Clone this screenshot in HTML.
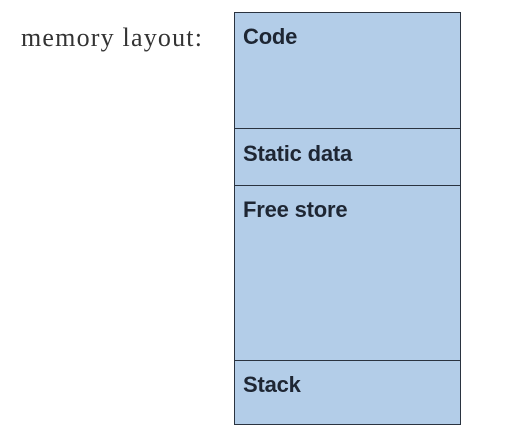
<!DOCTYPE html>
<html><head><style>
body{margin:0;width:512px;height:438px;background:#fff;position:relative;overflow:hidden}
.lbl{position:absolute;left:21px;top:23px;font:26px "Liberation Serif",serif;color:#333;letter-spacing:1.2px;white-space:nowrap}
.box{position:absolute;left:234px;top:12px;width:225px;height:411px;background:#b3cde8;border:1.5px solid #2a3340}
.d{position:absolute;left:0;right:0;height:0;border-top:1.5px solid #2a3340}
.t{position:absolute;left:8px;font:bold 22px "Liberation Sans",sans-serif;color:#1e2633;letter-spacing:-0.2px}
</style></head><body>
<div class="lbl">memory layout:</div>
<div class="box">
<div class="t" style="top:11px">Code</div>
<div class="d" style="top:115px"></div>
<div class="t" style="top:128px">Static data</div>
<div class="d" style="top:172px"></div>
<div class="t" style="top:184px">Free store</div>
<div class="d" style="top:347px"></div>
<div class="t" style="top:359px">Stack</div>
</div>
</body></html>
